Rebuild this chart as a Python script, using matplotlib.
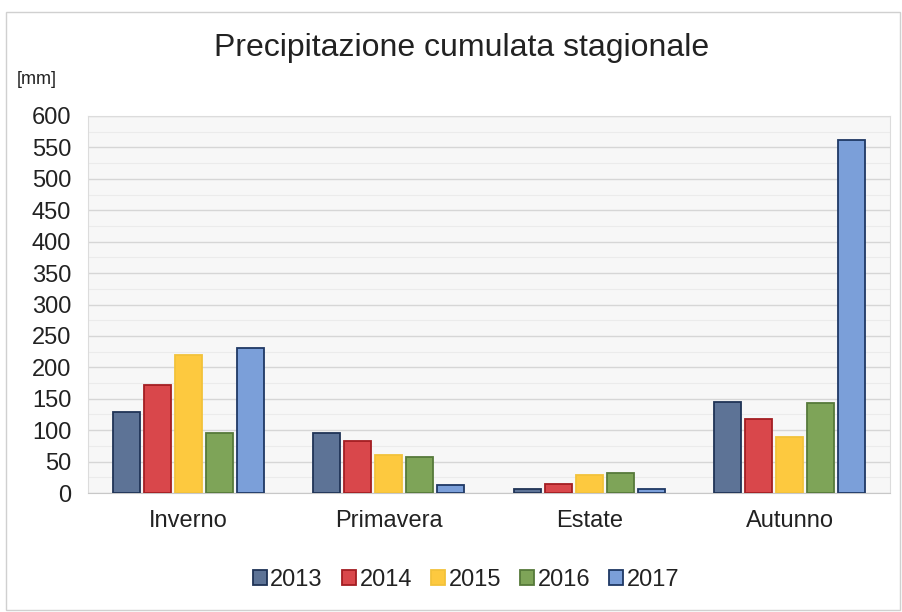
import matplotlib
matplotlib.use("Agg")
import matplotlib.pyplot as plt
import numpy as np
from matplotlib.patches import Rectangle

categories = ["Inverno", "Primavera", "Estate", "Autunno"]
years = ["2013", "2014", "2015", "2016", "2017"]
v2013 = [129, 96, 6, 145]
v2014 = [172, 82, 14, 118]
v2015 = [220, 61, 29, 89]
v2016 = [96, 57, 32, 143]
v2017 = [231, 12, 6, 562]
series = [v2013, v2014, v2015, v2016, v2017]

fills = ["#5d7396", "#d9474b", "#fdc93f", "#7ea458", "#7b9fd9"]
edges = ["#1f3356", "#a31d22", "#f2c23a", "#56793a", "#1f3864"]

plt.rcParams['font.family'] = ['Liberation Sans', 'DejaVu Sans']

fig = plt.figure(figsize=(9.02, 6.12), dpi=100)
fig.patches.append(Rectangle((6/902, 2/612), 894/902, 598/612, transform=fig.transFigure,
                             fill=False, edgecolor="#d0d0d0", linewidth=1.0))

ax = fig.add_axes([88/902, 1 - 493/612, 802/902, 377/612])
ax.set_facecolor("#f7f7f7")
x = np.arange(len(categories))
pitch = 0.155
width = 0.135
for i, (vals, yr) in enumerate(zip(series, years)):
    ax.bar(x + (i - 2) * pitch, vals, width, color=fills[i], edgecolor=edges[i],
           linewidth=1.3, label=yr, zorder=3)

ax.set_xlim(-0.5, 3.5)
ax.set_ylim(0, 600)
ax.set_yticks(np.arange(0, 601, 50))
ax.set_yticks(np.arange(25, 600, 50), minor=True)
ax.tick_params(axis='y', which='both', length=0, labelsize=17, pad=12, colors="#222222")
ax.tick_params(axis='x', length=0, labelsize=17, pad=12, colors="#222222")
ax.set_xticks(x)
ax.set_xticklabels(categories)
ax.grid(axis='y', which='major', color="#d6d6d6", linewidth=1.0, zorder=0)
ax.grid(axis='y', which='minor', color="#ebebeb", linewidth=0.8, zorder=0)
for s in ax.spines.values():
    s.set_color("#dcdcdc")
    s.set_linewidth(0.8)
ax.spines['bottom'].set_color("#c8c8c8")

fig.text(462 / 902, 1 - 48 / 612, "Precipitazione cumulata stagionale",
         ha='center', va='center', fontsize=23, color="#222222")
fig.text(17 / 902, 1 - 80 / 612, "[mm]", ha='left', va='center', fontsize=13, color="#222222")

leg = fig.legend(loc='center', bbox_to_anchor=(466 / 902, 1 - 580 / 612), ncol=5,
                 frameon=False, fontsize=17, handlelength=0.6, handleheight=0.6,
                 handletextpad=0.15, columnspacing=0.8)
for t in leg.get_texts():
    t.set_color("#222222")

fig.savefig("out.png", dpi=100)
